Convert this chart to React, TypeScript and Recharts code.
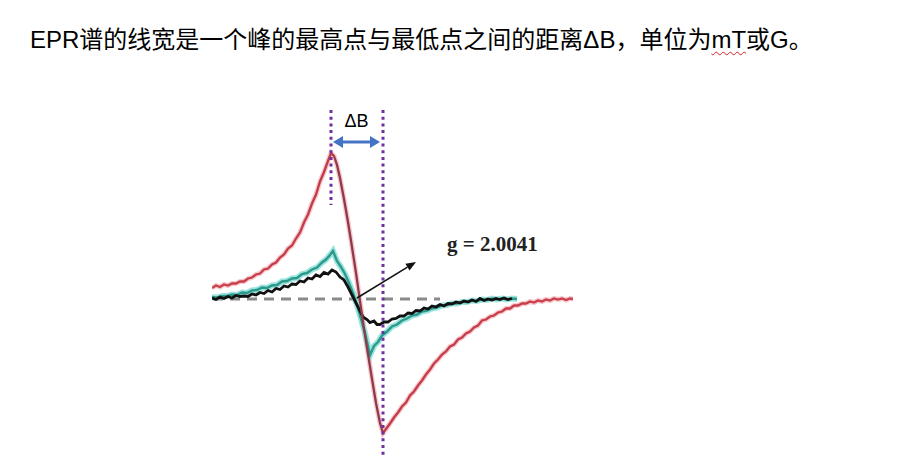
import React from 'react';
import { ComposedChart, Line, XAxis, YAxis, ReferenceLine } from 'recharts';

// Field offset (arbitrary units) and derivative signal amplitude (arbitrary units)
const redX = [0, 4, 8, 12, 16, 20, 24, 28, 32, 36, 40, 44, 48, 52, 56, 60, 64, 68, 72, 76, 80, 84, 88, 92, 96, 100, 104, 108, 112, 116, 119, 122, 125, 128, 132, 136, 140, 144, 148, 152, 156, 160, 164, 168, 171, 174, 178, 182, 186, 190, 194, 198, 202, 206, 210, 214, 218, 222, 226, 230, 234, 238, 242, 246, 250, 254, 258, 262, 266, 270, 274, 278, 282, 286, 290, 294, 298, 302, 306, 310, 314, 318, 322, 326, 330, 334, 338, 342, 346, 350, 354, 358, 361];
const redY = [11, 13.5, 12, 14.5, 13.5, 15.5, 15.5, 17.5, 17.5, 20.5, 21.5, 24.5, 25.5, 29.5, 30.5, 34.5, 36.5, 41.5, 44.5, 50.5, 53.5, 60.5, 66.5, 76.5, 84.5, 95.5, 104.5, 117.5, 127, 138, 146, 143, 134, 121, 100, 77, 52, 26, -2, -30, -55, -80, -104, -124, -134, -130, -124.5, -118.5, -113.5, -107.5, -103.5, -96.5, -92.5, -86.5, -81.5, -75.5, -70.5, -64.5, -60.5, -55.5, -52.5, -47.5, -45.5, -40.5, -38.5, -34.5, -32.5, -28.5, -26.5, -21.5, -20.5, -17.5, -16.5, -13.5, -12.5, -9.5, -9.5, -6.5, -6.5, -4.5, -4.5, -2.5, -3.5, -1.5, -2.5, -0.5, -1.5, 0.5, -0.5, 0.5, -1, 0.5, 0];

const tealX = [0, 5, 10, 15, 20, 25, 30, 35, 40, 45, 50, 55, 60, 65, 70, 75, 80, 85, 90, 95, 100, 105, 110, 114, 118, 121, 125, 129, 133, 137, 141, 145, 149, 153, 158, 162, 166, 170, 175, 180, 185, 190, 195, 200, 205, 210, 215, 220, 225, 230, 235, 240, 245, 250, 255, 260, 265, 270, 275, 280, 285, 290, 295, 300, 305];
const tealY = [2, 1.5, 3, 3, 4.5, 4, 6.5, 6, 8.5, 9, 11.5, 11, 13.5, 14, 17.5, 18, 20.5, 21, 25, 26, 29.5, 31.5, 36.5, 39.5, 44, 48, 38, 32, 25, 16, 6, -6, -20, -34, -56, -47, -43, -36.5, -32.5, -27.5, -25.5, -21.5, -19.5, -16.5, -15.5, -12.5, -11.5, -9.5, -8.5, -6.5, -6, -4.5, -4.5, -3, -3, -1.5, -2, -0.5, -1, 0.5, -0.5, 0.5, -0.5, 0.5, 0];

const blackX = [0, 4, 8, 12, 16, 20, 24, 28, 32, 36, 40, 44, 48, 52, 56, 60, 64, 68, 72, 76, 80, 84, 88, 92, 96, 100, 104, 108, 112, 116, 120, 124, 128, 132, 136, 141, 146, 151, 155, 158, 162, 165, 168, 172, 176, 180, 184, 188, 192, 196, 200, 204, 208, 212, 216, 220, 224, 228, 232, 236, 240, 244, 248, 252, 256, 260, 264, 268, 272, 276, 280, 284, 288, 292, 296, 300];
const blackY = [1, -0.5, 2, 0.5, 2.5, 1, 3.5, 2.5, 3, 2.5, 5, 4, 6.5, 5.5, 8.5, 7, 10.5, 9.5, 13, 12, 15, 14.5, 18, 17, 21, 20, 24, 22.5, 26.5, 25, 29, 27, 22, 19, 12, 2, -8, -18, -20.5, -23.5, -22, -25.5, -25.5, -23, -23, -20, -19.5, -17, -17, -14, -14.5, -11.5, -12, -9, -10, -7, -8, -5.5, -7, -4.5, -5, -3, -4, -2, -3, -1, -2.5, 0.5, -1.5, 0, -1, 0.5, -0.5, 1, -0.5, 0.5];

const toPoints = (xs: number[], ys: number[]) => xs.map((x, i) => ({ x, y: ys[i] }));
const redData = toPoints(redX, redY);
const tealData = toPoints(tealX, tealY);
const blackData = toPoints(blackX, blackY);

const peakX = 119;
const troughX = 171;
const gLabel = 'g = 2.0041';
const deltaLabel = 'ΔB';

const DoubleArrow = (props: any) => {
  const { x1, y1, x2, y2 } = props;
  const h = 6;
  const l = 10;
  return (
    <g>
      <line x1={x1 + l - 2} y1={y1} x2={x2 - l + 2} y2={y2} stroke="#4472C4" strokeWidth={3} />
      <polygon points={`${x1},${y1} ${x1 + l},${y1 - h} ${x1 + l},${y1 + h}`} fill="#4472C4" />
      <polygon points={`${x2},${y2} ${x2 - l},${y2 - h} ${x2 - l},${y2 + h}`} fill="#4472C4" />
      <text x={(x1 + x2) / 2} y={y1 - 15} textAnchor="middle" fontFamily="'Liberation Sans', Arial, sans-serif" fontSize={18} fill="#000">
        {deltaLabel}
      </text>
    </g>
  );
};

const PointerArrow = (props: any) => {
  const { x1, y1, x2, y2 } = props;
  const dx = x2 - x1;
  const dy = y2 - y1;
  const len = Math.sqrt(dx * dx + dy * dy);
  const ux = dx / len;
  const uy = dy / len;
  const l = 10;
  const w = 4;
  const bx = x2 - ux * l;
  const by = y2 - uy * l;
  return (
    <g>
      <line x1={x1} y1={y1} x2={bx} y2={by} stroke="#111" strokeWidth={1.5} />
      <polygon points={`${x2},${y2} ${bx - uy * w},${by + ux * w} ${bx + uy * w},${by - ux * w}`} fill="#111" />
      <text x={x2 + 31} y={y2 - 11} fontFamily="'Liberation Serif', 'Times New Roman', serif" fontWeight="bold" fontSize={21} fill="#222">
        {gLabel}
      </text>
    </g>
  );
};

export default function App() {
  return (
    <div style={{ position: 'absolute', left: 0, top: 0, width: 921, height: 476, background: '#fff', overflow: 'hidden' }}>
      <div
        style={{
          position: 'absolute',
          left: 30,
          top: 25,
          fontSize: 24,
          lineHeight: '30px',
          whiteSpace: 'nowrap',
          fontFamily: "'Liberation Sans', Arial, 'Noto Sans CJK SC', sans-serif",
          color: '#000',
        }}
      >
        EPR谱的线宽是一个峰的最高点与最低点之间的距离ΔB，单位为
        <span style={{ textDecoration: 'underline wavy #e02020', textDecorationThickness: 1, textUnderlineOffset: 3 }}>mT</span>
        或G。
      </div>
      <div style={{ position: 'absolute', left: 0, top: 0 }}>
        <ComposedChart width={921} height={476} margin={{ top: 99, right: 348, bottom: 17, left: 212 }}>
          <defs>
            <linearGradient id="redStroke" x1="0" y1="0" x2="1" y2="0">
              <stop offset="0" stopColor="#cc3f4c" />
              <stop offset="0.33" stopColor="#c23a4a" />
              <stop offset="0.345" stopColor="#8e3a4c" />
              <stop offset="0.465" stopColor="#8e3a4c" />
              <stop offset="0.48" stopColor="#c23a4a" />
              <stop offset="1" stopColor="#cc3f4c" />
            </linearGradient>
          </defs>
          <XAxis type="number" dataKey="x" domain={[0, 361]} hide allowDataOverflow />
          <YAxis type="number" domain={[-160, 200]} hide allowDataOverflow />
          <ReferenceLine
            segment={[{ x: 1, y: 0 }, { x: 228, y: 0 }]}
            stroke="#8a8a8a"
            strokeWidth={3}
            strokeDasharray="10 7"
          />
          <Line data={redData} dataKey="y" type="linear" stroke="#f4b3b8" strokeWidth={5} strokeOpacity={0.7} dot={false} isAnimationActive={false} />
          <Line data={tealData} dataKey="y" type="linear" stroke="#86dcd6" strokeWidth={6} strokeOpacity={0.8} dot={false} isAnimationActive={false} />
          <Line data={tealData} dataKey="y" type="linear" stroke="#2a9a8a" strokeWidth={2.4} dot={false} isAnimationActive={false} />
          <Line data={blackData} dataKey="y" type="linear" stroke="#111" strokeWidth={2.8} dot={false} isAnimationActive={false} />
          <Line data={redData} dataKey="y" type="linear" stroke="url(#redStroke)" strokeWidth={2.3} dot={false} isAnimationActive={false} />
          <ReferenceLine
            segment={[{ x: peakX, y: 189 }, { x: peakX, y: 94 }]}
            stroke="#7030A0"
            strokeWidth={3}
            strokeDasharray="3 3.7"
          />
          <ReferenceLine
            segment={[{ x: troughX, y: 189 }, { x: troughX, y: -159 }]}
            stroke="#7030A0"
            strokeWidth={3}
            strokeDasharray="3 3.7"
          />
          <ReferenceLine segment={[{ x: 121, y: 157 }, { x: 168, y: 157 }]} shape={DoubleArrow} />
          <ReferenceLine segment={[{ x: 145, y: 1 }, { x: 204, y: 37 }]} shape={PointerArrow} />
        </ComposedChart>
      </div>
    </div>
  );
}
